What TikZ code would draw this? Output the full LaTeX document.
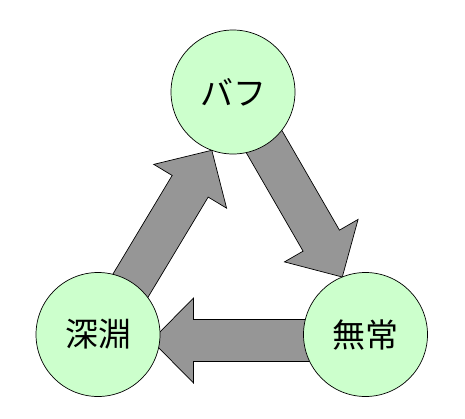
\documentclass[tikz,border=0pt]{standalone}
\usepackage{fontspec}
\newfontfamily\jpfont{Noto Sans CJK JP}
\usetikzlibrary{calc,backgrounds}
\definecolor{circfill}{HTML}{CCFFCC}
\definecolor{arrfill}{HTML}{969696}
\tikzset{
  circ/.style={circle, draw=black, line width=0.7pt, fill=circfill, minimum size=124pt, inner sep=0pt, outer sep=0pt, font=\jpfont\fontsize{33}{36}\selectfont},
  blockarrow/.style={draw=black, line width=0.7pt, fill=arrfill, line join=miter}
}
\newcommand{\blockarr}[1]{%
  \path[blockarrow] (0,0) -- (-42,42.5) -- (-42,21) -- (-#1,21) -- (-#1,-21) -- (-42,-21) -- (-42,-42.5) -- cycle;}
\begin{document}
\begin{tikzpicture}[x=1pt,y=-1pt]
\useasboundingbox (0,0) rectangle (465,418);
\node[circ] (buff) at (233,92) {バフ};
\node[circ] (deep) at (98,334.5) {深淵};
\node[circ] (mujo) at (365.5,334.5) {無常};
\begin{scope}[on background layer]
  % deep -> buff
  \begin{scope}[shift={(buff.250)}, rotate=59]
    \blockarr{190}
  \end{scope}
  % buff -> mujo
  \begin{scope}[shift={(mujo.112)}, rotate=-60]
    \blockarr{200}
  \end{scope}
  % mujo -> deep
  \coordinate (tip3) at ($(deep.center)+(53.5,6)$);
  \begin{scope}[shift={(tip3)}, rotate=180]
    \blockarr{190}
  \end{scope}
\end{scope}
\end{tikzpicture}
\end{document}
